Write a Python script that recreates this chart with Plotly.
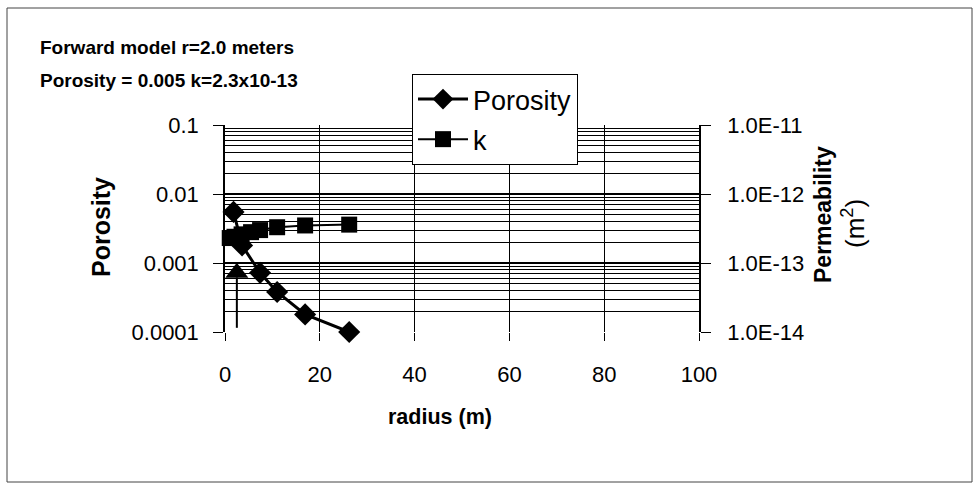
import plotly.graph_objects as go

# ---- data ----
radius = [1.8, 3.6, 7.4, 11.0, 16.9, 26.2]
porosity = [0.0055, 0.0018, 0.00072, 0.00038, 0.00018, 0.0001]
radius_k = [1.0, 2.0, 3.5, 5.5, 7.4, 11.0, 16.9, 26.2]
permeability = [2.3e-13, 2.4e-13, 2.6e-13, 2.8e-13, 3.0e-13, 3.3e-13, 3.5e-13, 3.6e-13]
arrow_x = [2.5, 2.5]
arrow_y = [0.000115, 0.00062]
arrow_head_y = [0.00072]

x_ticks = [0, 20, 40, 60, 80, 100]
y_ticks = [1e-4, 1e-3, 1e-2, 1e-1]
y_ticklabels = ["0.0001", "0.001", "0.01", "0.1"]
y2_ticks = [1e-14, 1e-13, 1e-12, 1e-11]
y2_ticklabels = ["1.0E-14", "1.0E-13", "1.0E-12", "1.0E-11"]

FONT = "Liberation Sans, Arial, sans-serif"
W, H = 979, 492
L, R, T, B = 225, 699, 125, 332
pw, ph = R - L, B - T

def px(xp):
    return (xp - L) / pw

def py(yp):
    return (B - yp) / ph

fig = go.Figure()

fig.add_trace(go.Scatter(
    x=radius, y=porosity, name="Porosity", mode="lines+markers", legendgroup="a",
    line=dict(color="black", width=3), cliponaxis=False,
    marker=dict(symbol="diamond", size=17, color="black"),
))
fig.add_trace(go.Scatter(
    x=radius_k, y=permeability, name="k", mode="lines+markers", yaxis="y2", legendgroup="b",
    line=dict(color="black", width=2), cliponaxis=False,
    marker=dict(symbol="square", size=16, color="black"),
))
fig.add_trace(go.Scatter(
    x=arrow_x, y=arrow_y, mode="lines", showlegend=False,
    line=dict(color="black", width=2), hoverinfo="skip",
))
fig.add_trace(go.Scatter(
    x=[arrow_x[0]], y=arrow_head_y, mode="markers", showlegend=False, cliponaxis=False,
    marker=dict(symbol="triangle-up", size=20, color="black"), hoverinfo="skip",
))

fig.update_layout(
    width=W, height=H,
    margin=dict(l=L, r=W - R, t=T, b=H - B),
    paper_bgcolor="white", plot_bgcolor="white",
    font=dict(family=FONT, color="black", size=22),
    showlegend=True,
    legend=dict(
        x=px(412), y=py(74), xanchor="left", yanchor="top",
        bgcolor="white", bordercolor="black", borderwidth=1,
        font=dict(size=27, family=FONT), tracegroupgap=2,
        itemwidth=50,
    ),
    xaxis=dict(
        range=[0, 100], tickvals=x_ticks, showgrid=True, gridcolor="black", gridwidth=1,
        zeroline=False, showline=False, ticks="outside", ticklen=8, tickcolor="black",
        tickfont=dict(size=22), ticklabelstandoff=15,
    ),
    yaxis=dict(
        type="log", range=[-4, -1], tickvals=y_ticks, ticktext=y_ticklabels,
        showgrid=True, gridcolor="black", gridwidth=1.5,
        minor=dict(dtick="D1", showgrid=True, gridcolor="black", gridwidth=1, ticks=""),
        showline=True, linecolor="black", linewidth=1.5,
        ticks="outside", ticklen=10, tickcolor="black", tickfont=dict(size=22),
        zeroline=False, ticklabelstandoff=10,
    ),
    yaxis2=dict(
        type="log", range=[-14, -11], overlaying="y", side="right",
        tickvals=y2_ticks, ticktext=y2_ticklabels, showgrid=False,
        showline=True, linecolor="black", linewidth=1.5,
        ticks="outside", ticklen=10, tickcolor="black", tickfont=dict(size=22),
        zeroline=False, ticklabelstandoff=12,
    ),
    annotations=[
        dict(text="<b>Forward model r=2.0 meters</b>", x=px(38), y=py(47), xref="paper", yref="paper",
             xanchor="left", yanchor="middle", showarrow=False, font=dict(size=19)),
        dict(text="<b>Porosity = 0.005 k=2.3x10-13</b>", x=px(38), y=py(81), xref="paper", yref="paper",
             xanchor="left", yanchor="middle", showarrow=False, font=dict(size=19)),
        dict(text="<b>Porosity</b>", x=px(101), y=py(227), xref="paper", yref="paper",
             xanchor="center", yanchor="middle", showarrow=False, textangle=-90, font=dict(size=25)),
        dict(text="<b>radius (m)</b>", x=px(440), y=py(417), xref="paper", yref="paper",
             xanchor="center", yanchor="middle", showarrow=False, font=dict(size=21.5)),
        dict(text="<b>Permeability</b>", x=px(823), y=py(215), xref="paper", yref="paper",
             xanchor="center", yanchor="middle", showarrow=False, textangle=-90, font=dict(size=23)),
        dict(text="(m<sup>2</sup>)", x=px(853), y=py(224), xref="paper", yref="paper",
             xanchor="center", yanchor="middle", showarrow=False, textangle=-90, font=dict(size=26)),
    ],
    shapes=[
        dict(type="rect", xref="paper", yref="paper", x0=px(7), x1=px(972), y0=py(482), y1=py(8),
             line=dict(color="#444", width=1), layer="below"),
    ],
)

fig.write_html("out.html")
